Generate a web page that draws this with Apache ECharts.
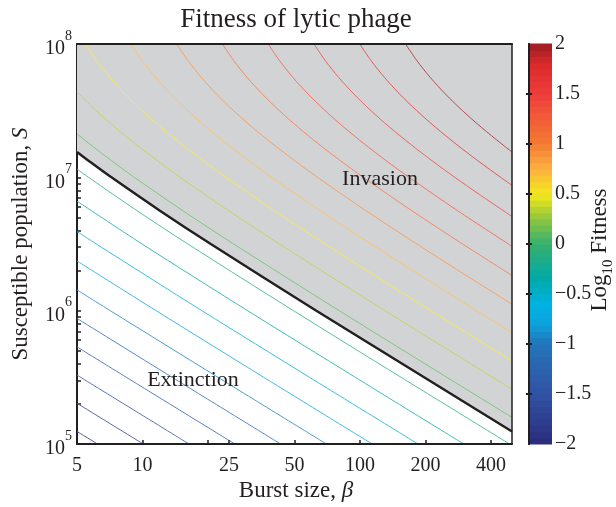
<!DOCTYPE html>
<html><head><meta charset="utf-8">
<script src="https://cdn.jsdelivr.net/npm/echarts@6/dist/echarts.min.js"></script>
<style>html,body{margin:0;padding:0;background:#fff}#c{width:616px;height:507px}</style>
</head><body><div id="c"></div>
<script>
// ---- data ----
// contour levels of log10 fitness
const levels = [-2.0000,-1.7895,-1.5789,-1.3684,-1.1579,-0.9474,-0.7368,-0.5263,-0.3158,-0.1053,
                 0.1053, 0.3158, 0.5263, 0.7368, 0.9474, 1.1579, 1.3684, 1.5789, 1.7895, 2.0000];
// contour lines: [burst size, susceptible population]
const c00 = [[5,1.2425e5],[6.21,1e5]];
const c01 = [[5,2.020e5],[10.08,1e5]];
const c02 = [[5,3.287e5],[16.37,1e5]];
const c03 = [[5,5.354e5],[8.437,3.162e5],[26.59,1e5]];
const c04 = [[5,8.741e5],[13.70,3.162e5],[43.17,1e5]];
const c05 = [[5,1.4319e6],[7.11,1e6],[22.24,3.162e5],[70.10,1e5]];
const c06 = [[5,2.3592e6],[11.55,1e6],[36.13,3.162e5],[113.8,1e5]];
const c07 = [[5,3.924e6],[6.135,3.162e6],[18.75,1e6],[58.67,3.162e5],[184.9,1e5]];
const c08 = [[5,6.633e6],[9.96,3.162e6],[30.44,1e6],[95.24,3.162e5],[300.1,1e5]];
const c09 = [[5,1.1539e7],[5.649,1e7],[9.437,5.623e6],[16.17,3.162e6],[49.43,1e6],[154.6,3.162e5],[487.3,1e5]];
const c10 = [[5,2.1197e7],[5.717,1.7783e7],[7.199,1.3335e7],[9.175,1e7],[15.32,5.623e6],[26.26,3.162e6],[80.27,1e6],[251.1,3.162e5],[500,1.5837e5]];
const c11 = [[5,4.3776e7],[6.126,3.162e7],[7.479,2.3714e7],[9.284,1.7783e7],[14.90,1e7],[24.88,5.623e6],[42.64,3.162e6],[130.3,1e6],[407.7,3.162e5],[500,2.5769e5]];
const c12 = [[5.442,1e8],[6.138,7.499e7],[7.065,5.623e7],[8.299,4.217e7],[9.947,3.162e7],[12.15,2.3714e7],[15.08,1.7783e7],[18.98,1.3335e7],[24.19,1e7],[40.41,5.623e6],[69.23,3.162e6],[120.5,1.7783e6],[211.7,1e6],[500,4.1937e5]];
const c13 = [[8.84,1e8],[9.966,7.499e7],[11.47,5.623e7],[13.48,4.217e7],[16.15,3.162e7],[19.72,2.3714e7],[24.47,1.7783e7],[30.81,1.3335e7],[39.28,1e7],[65.62,5.623e6],[112.4,3.162e6],[195.7,1.7783e6],[343.7,1e6],[500,6.838e5]];
const c14 = [[14.35,1e8],[16.19,7.499e7],[18.63,5.623e7],[21.88,4.217e7],[26.23,3.162e7],[32.02,2.3714e7],[39.75,1.7783e7],[50.05,1.3335e7],[63.78,1e7],[106.5,5.623e6],[182.6,3.162e6],[317.8,1.7783e6],[500,1.1185e6]];
const c15 = [[23.30,1e8],[26.28,7.499e7],[30.24,5.623e7],[35.53,4.217e7],[42.59,3.162e7],[52.0,2.3714e7],[64.53,1.7783e7],[81.25,1.3335e7],[103.6,1e7],[173.0,5.623e6],[296.4,3.162e6],[500,1.8365e6]];
const c16 = [[37.84,1e8],[42.67,7.499e7],[49.11,5.623e7],[57.69,4.217e7],[69.16,3.162e7],[84.43,2.3714e7],[104.8,1.7783e7],[131.9,1.3335e7],[168.2,1e7],[280.9,5.623e6],[500,3.0377e6]];
const c17 = [[61.43,1e8],[69.29,7.499e7],[79.74,5.623e7],[93.68,4.217e7],[112.3,3.162e7],[137.1,2.3714e7],[170.2,1.7783e7],[214.2,1.3335e7],[273.0,1e7],[351.5,7.499e6],[500,5.0874e6]];
const c18 = [[99.77,1e8],[112.5,7.499e7],[129.5,5.623e7],[152.1,4.217e7],[182.4,3.162e7],[222.6,2.3714e7],[276.3,1.7783e7],[347.9,1.3335e7],[443.5,1e7],[500,8.7066e6]];
const c19 = [[162.0,1e8],[182.7,7.499e7],[210.2,5.623e7],[247.0,4.217e7],[296.1,3.162e7],[361.5,2.3714e7],[448.7,1.7783e7],[500,1.55e7]];
// fitness = 1 boundary (log10 fitness = 0)
const boundary = [[5,1.55e7],[5.649,1.3335e7],[7.199,1e7],[12.03,5.623e6],[20.61,3.162e6],[63.0,1e6],[197.1,3.162e5],[500,1.2425e5]];
// ticks
const xTickLabels = [5,10,25,50,100,200,400];
const xTickMarks = [10,20,25,50,100,200,400];
const yTickLabels = [1e5,1e6,1e7,1e8];
const yTickMarks = [1e5,2e5,3e5,4e5,5e5,6e5,7e5,8e5,9e5,1e6,2e6,3e6,4e6,5e6,6e6,7e6,8e6,9e6,1e7,2e7,3e7,4e7,5e7,6e7,7e7,8e7,9e7,1e8];
const cbTicks = [-2,-1.5,-1,-0.5,0,0.5,1,1.5,2];
const contours = [c00,c01,c02,c03,c04,c05,c06,c07,c08,c09,c10,c11,c12,c13,c14,c15,c16,c17,c18,c19];

// ---- colour map (styling) ----
const cmapStops = [
  [-2.0,[43,44,124]],[-1.5,[49,82,163]],[-1.0,[36,116,185]],[-0.8,[13,163,220]],
  [-0.6,[0,178,227]],[-0.35,[0,170,168]],[0.0,[53,176,111]],[0.25,[141,198,63]],
  [0.5,[244,232,28]],[0.75,[251,176,64]],[1.0,[244,124,52]],[1.5,[238,61,59]],
  [1.8,[220,42,43]],[2.0,[155,28,33]]];
function cmapRGB(v){
  v = Math.max(-2, Math.min(2, v));
  for (let i=0;i<cmapStops.length-1;i++){
    const a=cmapStops[i], b=cmapStops[i+1];
    if (v<=b[0]){
      const t=(v-a[0])/(b[0]-a[0]);
      return a[1].map((x,j)=>x+(b[1][j]-x)*t);
    }
  }
  return cmapStops[cmapStops.length-1][1];
}
function cmap(v){ return 'rgb('+cmapRGB(v).map(Math.round).join(',')+')'; }
function cmapLight(v, f){ return 'rgb('+cmapRGB(v).map(x=>Math.round(x+(255-x)*f)).join(',')+')'; }
const NSTEP = 64;
const cbSteps = [];
for (let i=0;i<NSTEP;i++){ cbSteps.push([0.5, -2+4*i/NSTEP, -2+4*(i+1)/NSTEP]); }

const FONT = 'Liberation Serif';
const INK = '#231f20';

const series = contours.map((pts,i)=>({
  type:'line', xAxisIndex:0, yAxisIndex:0, data:pts, showSymbol:false, symbol:'none',
  smooth:0.3, silent:true, z:3,
  lineStyle:{color:cmapLight(levels[i], 0.22), width:1}
}));
series.unshift({
  type:'line', xAxisIndex:0, yAxisIndex:0, data:boundary, symbol:'none', smooth:0.3, silent:true, z:2,
  lineStyle:{width:0}, areaStyle:{origin:'end', color:'#d1d3d4', opacity:1}
});
series.push({
  type:'line', xAxisIndex:0, yAxisIndex:0, data:boundary, symbol:'none', smooth:0.3, silent:true, z:4,
  lineStyle:{color:INK, width:2.4}
});
series.push({
  type:'custom', xAxisIndex:1, yAxisIndex:2, data:cbSteps, encode:{x:0,y:[1,2]}, silent:true,
  renderItem:function(params, api){
    const lo=api.value(1), hi=api.value(2);
    const p0=api.coord([0,hi]), p1=api.coord([1,lo]);
    return {type:'rect', shape:{x:p0[0], y:p0[1]-0.5, width:p1[0]-p0[0], height:p1[1]-p0[1]+1},
            style:{fill:cmap((lo+hi)/2)}};
  }
});

const option = {
  animation:false,
  backgroundColor:'#ffffff',
  textStyle:{fontFamily:FONT, color:INK},
  grid:[
    {left:77, top:44, width:435, height:400},
    {left:529, top:44, width:23, height:400}
  ],
  xAxis:[
    {type:'log', gridIndex:0, min:5, max:500, logBase:10, position:'bottom', z:10,
     axisLine:{lineStyle:{color:INK, width:2}},
     axisTick:{inside:true, length:4, customValues:xTickMarks, lineStyle:{color:INK, width:1.5}},
     axisLabel:{customValues:xTickLabels, showMinLabel:true, showMaxLabel:true, margin:12,
       color:INK, fontFamily:FONT, fontSize:20},
     splitLine:{show:false}, minorTick:{show:false}},
    {type:'value', gridIndex:1, min:0, max:1, show:false},
    {type:'log', gridIndex:0, min:5, max:500, position:'top', z:10,
     axisLine:{lineStyle:{color:INK, width:2}}, axisTick:{show:false}, axisLabel:{show:false}, splitLine:{show:false}}
  ],
  yAxis:[
    {type:'log', gridIndex:0, min:1e5, max:1e8, logBase:10, position:'left',
     axisLine:{lineStyle:{color:INK, width:2}},
     axisTick:{inside:true, length:4, customValues:yTickMarks, lineStyle:{color:INK, width:1.5}},
     axisLabel:{customValues:yTickLabels, showMinLabel:true, showMaxLabel:true, margin:5, color:INK,
       formatter:function(v){ return '{b|10}{s|'+Math.round(Math.log10(v))+'}'; },
       rich:{b:{fontFamily:FONT, fontSize:20, color:INK, verticalAlign:'bottom', lineHeight:30},
             s:{fontFamily:FONT, fontSize:14, color:INK, verticalAlign:'top', lineHeight:30}}},
     splitLine:{show:false}},
    {type:'log', gridIndex:0, min:1e5, max:1e8, position:'right', z:10,
     axisLine:{lineStyle:{color:INK, width:1.5}}, axisTick:{show:false}, axisLabel:{show:false}, splitLine:{show:false}},
    {type:'value', gridIndex:1, min:-2, max:2, interval:0.5, position:'right', z:10,
     axisLine:{lineStyle:{color:INK, width:2}},
     axisTick:{inside:true, length:3, customValues:cbTicks.slice(1,-1), lineStyle:{color:INK, width:2}},
     axisLabel:{margin:3, color:INK, fontFamily:FONT, fontSize:20,
       formatter:function(v){ return String(v).replace('-','\u2212'); }},
     splitLine:{show:false}},
    {type:'value', gridIndex:1, min:-2, max:2, interval:0.5, position:'left', z:10,
     axisLine:{lineStyle:{color:INK, width:2}},
     axisTick:{inside:true, length:3, customValues:cbTicks.slice(1,-1), lineStyle:{color:INK, width:2}},
     axisLabel:{show:false}, splitLine:{show:false}}
  ],
  series:series,
  graphic:[
    {type:'text', x:296, y:20, z:20, style:{text:'Fitness of lytic phage', fontFamily:FONT, fontSize:27, fill:INK, textAlign:'center', textVerticalAlign:'middle'}},
    {type:'text', x:296, y:491, z:20, style:{text:'{n|Burst size, }{i|\u03b2}', textAlign:'center', textVerticalAlign:'middle',
       rich:{n:{fontFamily:FONT, fontSize:23, fill:INK}, i:{fontFamily:FONT, fontSize:23, fontStyle:'italic', fill:INK}}}},
    {type:'text', x:21, y:244, rotation:Math.PI/2, z:20, style:{text:'{n|Susceptible population, }{i|S}', textAlign:'center', textVerticalAlign:'middle',
       rich:{n:{fontFamily:FONT, fontSize:23, fill:INK}, i:{fontFamily:FONT, fontSize:23, fontStyle:'italic', fill:INK}}}},
    {type:'text', x:602, y:250, rotation:Math.PI/2, z:20, style:{text:'{n|Log}{s|10}{n| Fitness}', textAlign:'center', textVerticalAlign:'middle',
       rich:{n:{fontFamily:FONT, fontSize:23, fill:INK, verticalAlign:'top', lineHeight:28}, s:{fontFamily:FONT, fontSize:15, fill:INK, verticalAlign:'bottom', lineHeight:28}}}},
    {type:'text', x:380, y:179, z:20, style:{text:'Invasion', fontFamily:FONT, fontSize:22, fill:INK, textAlign:'center', textVerticalAlign:'middle'}},
    {type:'text', x:193, y:380, z:20, style:{text:'Extinction', fontFamily:FONT, fontSize:22, fill:INK, textAlign:'center', textVerticalAlign:'middle'}}
  ]
};
const chart = echarts.init(document.getElementById('c'), null, {renderer:'canvas'});
chart.setOption(option);
</script></body></html>
